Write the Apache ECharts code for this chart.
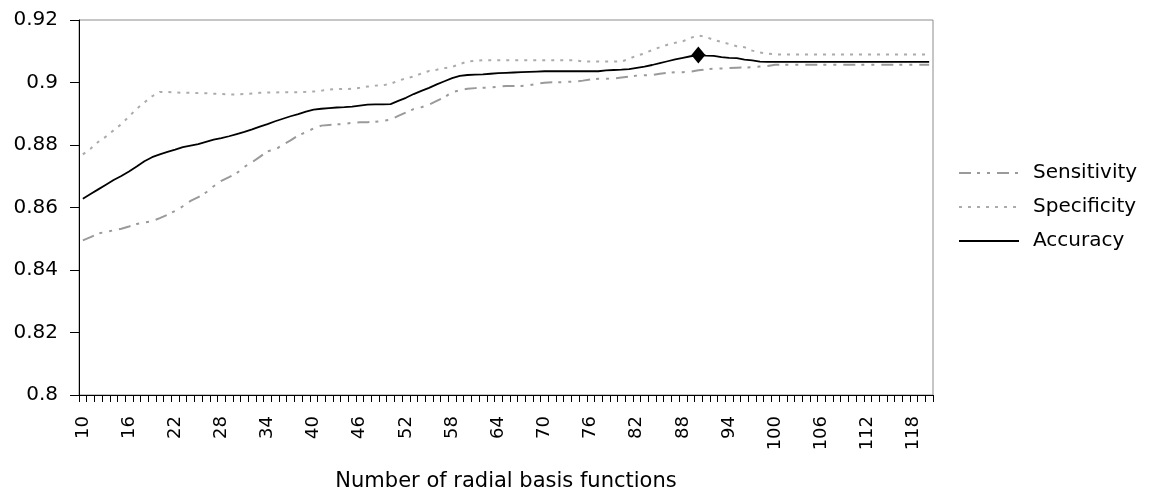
<!DOCTYPE html>
<html>
<head>
<meta charset="utf-8">
<script src="https://cdn.jsdelivr.net/npm/echarts@6/dist/echarts.min.js"></script>
<style>html,body{margin:0;padding:0;background:#fff;}#c{width:1151px;height:492px;}</style>
</head>
<body>
<div id="c"></div>
<script>
// Number of radial basis functions: 10 .. 120
const categories = [];
for (let n = 10; n <= 120; n++) categories.push(String(n));

const sensitivity = [
  0.8495, 0.8505, 0.8517, 0.8522, 0.8527, 0.8532, 0.8539, 0.8547, 0.8552, 0.8556,
  0.8566, 0.8577, 0.8589, 0.8604, 0.8621, 0.8633, 0.8648, 0.8668, 0.8685, 0.8697,
  0.8710, 0.8730, 0.8745, 0.8762, 0.8780, 0.8785, 0.8801, 0.8815, 0.8831, 0.8841,
  0.8853, 0.8862, 0.8864, 0.8866, 0.8867, 0.8871, 0.8873, 0.8873, 0.8874, 0.8877,
  0.8881, 0.8893, 0.8904, 0.8915, 0.8921, 0.8929, 0.8941, 0.8953, 0.8969, 0.8975,
  0.8980, 0.8982, 0.8983, 0.8984, 0.8987, 0.8989, 0.8989, 0.8989, 0.8991, 0.8996,
  0.8999, 0.9001, 0.9001, 0.9002, 0.9003, 0.9006, 0.9010, 0.9012, 0.9012, 0.9013,
  0.9016, 0.9019, 0.9022, 0.9023, 0.9024, 0.9028, 0.9031, 0.9033, 0.9033, 0.9035,
  0.9039, 0.9042, 0.9044, 0.9045, 0.9046, 0.9047, 0.9048, 0.9049, 0.9051, 0.9053,
  0.9057, 0.9057, 0.9057, 0.9057, 0.9057, 0.9057, 0.9057, 0.9057, 0.9057, 0.9057,
  0.9057, 0.9057, 0.9057, 0.9057, 0.9057, 0.9057, 0.9057, 0.9057, 0.9057, 0.9057,
  0.9057
];

const specificity = [
  0.8770, 0.8788, 0.8810, 0.8827, 0.8847, 0.8867, 0.8891, 0.8916, 0.8936, 0.8956,
  0.8970, 0.8970, 0.8968, 0.8967, 0.8967, 0.8966, 0.8966, 0.8964, 0.8963, 0.8962,
  0.8962, 0.8963, 0.8965, 0.8967, 0.8968, 0.8968, 0.8969, 0.8969, 0.8969, 0.8970,
  0.8971, 0.8974, 0.8977, 0.8979, 0.8979, 0.8980, 0.8983, 0.8987, 0.8990, 0.8991,
  0.8996, 0.9006, 0.9013, 0.9019, 0.9029, 0.9037, 0.9041, 0.9046, 0.9050, 0.9059,
  0.9067, 0.9069, 0.9071, 0.9071, 0.9071, 0.9071, 0.9071, 0.9071, 0.9071, 0.9071,
  0.9071, 0.9071, 0.9071, 0.9071, 0.9071, 0.9067, 0.9067, 0.9067, 0.9067, 0.9067,
  0.9067, 0.9076, 0.9086, 0.9093, 0.9104, 0.9113, 0.9121, 0.9127, 0.9132, 0.9143,
  0.9150, 0.9146, 0.9136, 0.9130, 0.9123, 0.9116, 0.9113, 0.9102, 0.9096, 0.9092,
  0.9090, 0.9090, 0.9090, 0.9090, 0.9090, 0.9090, 0.9090, 0.9090, 0.9090, 0.9090,
  0.9090, 0.9090, 0.9090, 0.9090, 0.9090, 0.9090, 0.9090, 0.9090, 0.9090, 0.9090,
  0.9090
];

const accuracy = [
  0.8628, 0.8643, 0.8658, 0.8673, 0.8688, 0.8701, 0.8715, 0.8731, 0.8748, 0.8761,
  0.8770, 0.8778, 0.8785, 0.8793, 0.8798, 0.8803, 0.8810, 0.8817, 0.8822, 0.8828,
  0.8835, 0.8842, 0.8850, 0.8859, 0.8867, 0.8876, 0.8884, 0.8892, 0.8899, 0.8907,
  0.8913, 0.8916, 0.8918, 0.8920, 0.8921, 0.8923, 0.8926, 0.8929, 0.8930, 0.8930,
  0.8931, 0.8941, 0.8951, 0.8963, 0.8973, 0.8983, 0.8994, 0.9004, 0.9014, 0.9021,
  0.9024, 0.9025, 0.9026, 0.9028, 0.9030, 0.9031, 0.9032, 0.9033, 0.9034, 0.9035,
  0.9036, 0.9036, 0.9036, 0.9036, 0.9036, 0.9036, 0.9036, 0.9036, 0.9039, 0.9040,
  0.9041, 0.9043, 0.9047, 0.9051, 0.9056, 0.9062, 0.9068, 0.9074, 0.9079, 0.9084,
  0.9088, 0.9086, 0.9085, 0.9081, 0.9079, 0.9078, 0.9073, 0.9071, 0.9067, 0.9066,
  0.9066, 0.9066, 0.9066, 0.9066, 0.9066, 0.9066, 0.9066, 0.9066, 0.9066, 0.9066,
  0.9066, 0.9066, 0.9066, 0.9066, 0.9066, 0.9066, 0.9066, 0.9066, 0.9066, 0.9066,
  0.9066
];

const markedCategory = '90';
const yTicks = { min: 0.8, max: 0.92, step: 0.02 };

const FONT = 'DejaVu Sans';
const chart = echarts.init(document.getElementById('c'), null, { renderer: 'canvas' });

const markedIndex = categories.indexOf(markedCategory);

chart.setOption({
  animation: false,
  backgroundColor: '#fff',
  grid: {
    left: 79, right: 218, top: 20, bottom: 97,
    containLabel: false, outerBoundsMode: 'none',
    show: true, borderColor: '#8c8c8c', borderWidth: 1, backgroundColor: '#fff'
  },
  legend: {
    orient: 'vertical',
    left: 958, top: 163, padding: 0,
    itemWidth: 60, itemHeight: 14, itemGap: 14,
    itemStyle: { opacity: 0 },
    textStyle: { fontFamily: FONT, fontSize: 20, color: '#000', padding: [0, 0, 0, 9] },
    data: ['Sensitivity', 'Specificity', 'Accuracy']
  },
  xAxis: {
    type: 'category',
    data: categories,
    boundaryGap: true,
    name: 'Number of radial basis functions',
    nameLocation: 'middle',
    nameGap: 76,
    nameTextStyle: { fontFamily: FONT, fontSize: 21, color: '#000' },
    axisLine: { lineStyle: { color: '#000', width: 1 } },
    axisTick: { show: true, interval: 0, length: 7, lineStyle: { color: '#000' } },
    axisLabel: { interval: 5, rotate: 90, margin: 21, fontFamily: FONT, fontSize: 18, color: '#000' },
    splitLine: { show: false }
  },
  yAxis: {
    type: 'value',
    min: yTicks.min, max: yTicks.max, interval: yTicks.step,
    axisLine: { show: true, lineStyle: { color: '#000', width: 1 } },
    axisTick: { show: true, length: 9, lineStyle: { color: '#000' } },
    axisLabel: { margin: 21, fontFamily: FONT, fontSize: 20, color: '#000',
      formatter: v => String(parseFloat(v.toFixed(2))) },
    splitLine: { show: false }
  },
  series: [
    {
      name: 'Sensitivity', type: 'line', data: sensitivity,
      symbol: 'none', showSymbol: false,
      lineStyle: { color: '#9a9a9a', width: 2, type: [12, 6, 3, 7, 3, 7] },
      itemStyle: { color: '#9a9a9a' }
    },
    {
      name: 'Specificity', type: 'line', data: specificity,
      symbol: 'none', showSymbol: false,
      lineStyle: { color: '#ababab', width: 2, type: [3, 6] },
      itemStyle: { color: '#ababab' }
    },
    {
      name: 'Accuracy', type: 'line', data: accuracy,
      symbol: 'none', showSymbol: false,
      lineStyle: { color: '#000', width: 1.8 },
      itemStyle: { color: '#000' },
      z: 5,
      markPoint: {
        symbol: 'diamond',
        symbolSize: [14, 17],
        label: { show: false },
        itemStyle: { color: '#000' },
        data: [{ coord: [markedCategory, accuracy[markedIndex]] }]
      }
    }
  ]
});
</script>
</body>
</html>
